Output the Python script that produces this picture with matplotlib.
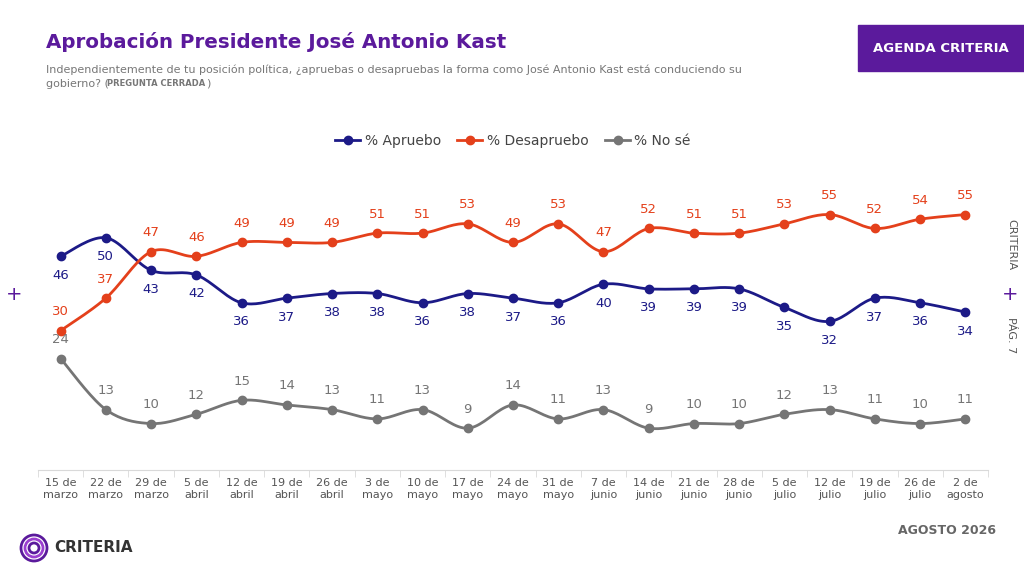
import numpy as np
import matplotlib.pyplot as plt
from matplotlib.patches import Rectangle, Ellipse

fechas = ["15 de\nmarzo", "22 de\nmarzo", "29 de\nmarzo", "5 de\nabril", "12 de\nabril", "19 de\nabril",
          "26 de\nabril", "3 de\nmayo", "10 de\nmayo", "17 de\nmayo", "24 de\nmayo", "31 de\nmayo",
          "7 de\njunio", "14 de\njunio", "21 de\njunio", "28 de\njunio", "5 de\njulio", "12 de\njulio",
          "19 de\njulio", "26 de\njulio", "2 de\nagosto"]
series = {
    "% Apruebo": ([46, 50, 43, 42, 36, 37, 38, 38, 36, 38, 37, 36, 40, 39, 39, 39, 35, 32, 37, 36, 34], "#1c1a87", -1),
    "% Desapruebo": ([30, 37, 47, 46, 49, 49, 49, 51, 51, 53, 49, 53, 47, 52, 51, 51, 53, 55, 52, 54, 55], "#e4401b", 1),
    "% No sé": ([24, 13, 10, 12, 15, 14, 13, 11, 13, 9, 14, 11, 13, 9, 10, 10, 12, 13, 11, 10, 11], "#757575", 1),
}
purple = "#5b1a9c"


def smooth(x, y, n=20):
    # catmull-rom curve through the points
    x = np.asarray(x, float); y = np.asarray(y, float)
    px = np.concatenate([[x[0]], x, [x[-1]]]); py = np.concatenate([[y[0]], y, [y[-1]]])
    xs, ys = [], []
    t = np.linspace(0, 1, n)
    for i in range(1, len(px) - 2):
        for p, out in ((px, xs), (py, ys)):
            p0, p1, p2, p3 = p[i - 1], p[i], p[i + 1], p[i + 2]
            out.extend(0.5 * (2 * p1 + (-p0 + p2) * t + (2 * p0 - 5 * p1 + 4 * p2 - p3) * t ** 2
                              + (-p0 + 3 * p1 - 3 * p2 + p3) * t ** 3))
    return xs, ys


fig = plt.figure(figsize=(10.24, 5.73), dpi=100)
ax = fig.add_axes([38 / 1024, 1 - 470 / 573, 950 / 1024, 320 / 573])
x = np.arange(len(fechas))
for name, (vals, col, side) in series.items():
    sx, sy = smooth(x, vals)
    ax.plot(sx, sy, color=col, lw=2)
    ax.plot(x, vals, "o", color=col, ms=6)
    ax.plot([], [], "-o", color=col, ms=6, lw=2, label=name)
    for xi, v in zip(x, vals):
        ax.annotate(str(v), (xi, v), xytext=(0, 9 * side), textcoords="offset points",
                    ha="center", va="bottom" if side > 0 else "top", color=col, fontsize=9.5)

ax.set_xlim(-0.5, 20.5)
ax.set_ylim(0, 68.9)
ax.set_yticks([])
ax.set_xticks(x)
ax.set_xticklabels(fechas, fontsize=8, color="#555555")
ax.set_xticks(np.arange(-0.5, 21, 1), minor=True)
ax.tick_params(axis="x", which="major", length=0, pad=6)
ax.tick_params(axis="x", which="minor", length=5, color="#d9d9d9")
for s in ["top", "right", "left"]:
    ax.spines[s].set_visible(False)
ax.spines["bottom"].set_color("#d9d9d9")
ax.legend(loc="upper center", bbox_to_anchor=(0.5, 1.09), ncol=3, frameon=False, fontsize=10,
          handlelength=1.8, handletextpad=0.3, columnspacing=1.2, labelcolor="#444444")

fig.text(46 / 1024, 1 - 42 / 573, "Aprobación Presidente José Antonio Kast", color=purple,
         fontsize=14.3, fontweight="bold", va="center")
fig.text(46 / 1024, 1 - 70 / 573, "Independientemente de tu posición política, ¿apruebas o desapruebas la forma como José Antonio Kast está conduciendo su",
         color="#777777", fontsize=8, va="center")
fig.text(46 / 1024, 1 - 84 / 573, "gobierno? (", color="#777777", fontsize=8, va="center")
fig.text(107 / 1024, 1 - 84 / 573, "PREGUNTA CERRADA", color="#777777", fontsize=6, fontweight="bold", va="center")
fig.text(206 / 1024, 1 - 84 / 573, ")", color="#777777", fontsize=8, va="center")
fig.add_artist(Rectangle((858 / 1024, 1 - 71 / 573), 166 / 1024, 46 / 573, transform=fig.transFigure,
                         color=purple))
fig.text(941 / 1024, 1 - 48 / 573, "AGENDA CRITERIA", color="white", fontsize=9.5, fontweight="bold",
         ha="center", va="center")
fig.text(14 / 1024, 1 - 294 / 573, "+", color=purple, fontsize=14, ha="center", va="center")
fig.text(1010 / 1024, 1 - 294 / 573, "+", color=purple, fontsize=14, ha="center", va="center")
fig.text(1011 / 1024, 1 - 245 / 573, "CRITERIA", color="#555555", fontsize=8, rotation=270, ha="center", va="center")
fig.text(1011 / 1024, 1 - 335 / 573, "PÁG. 7", color="#555555", fontsize=8, rotation=270, ha="center", va="center")
fig.text(996 / 1024, 1 - 530 / 573, "AGOSTO 2026", color="#666666", fontsize=9, fontweight="bold", ha="right", va="center")
for r, c in ((13, purple), (9, "#9b3fd0"), (5, purple)):
    fig.add_artist(Ellipse((34 / 1024, 1 - 548 / 573), 2 * r / 1024, 2 * r / 573, transform=fig.transFigure,
                           fill=False, lw=2, color=c))
fig.text(54 / 1024, 1 - 548 / 573, "CRITERIA", color="#333333", fontsize=11, fontweight="bold", va="center")

fig.savefig("out.png", dpi=100)
